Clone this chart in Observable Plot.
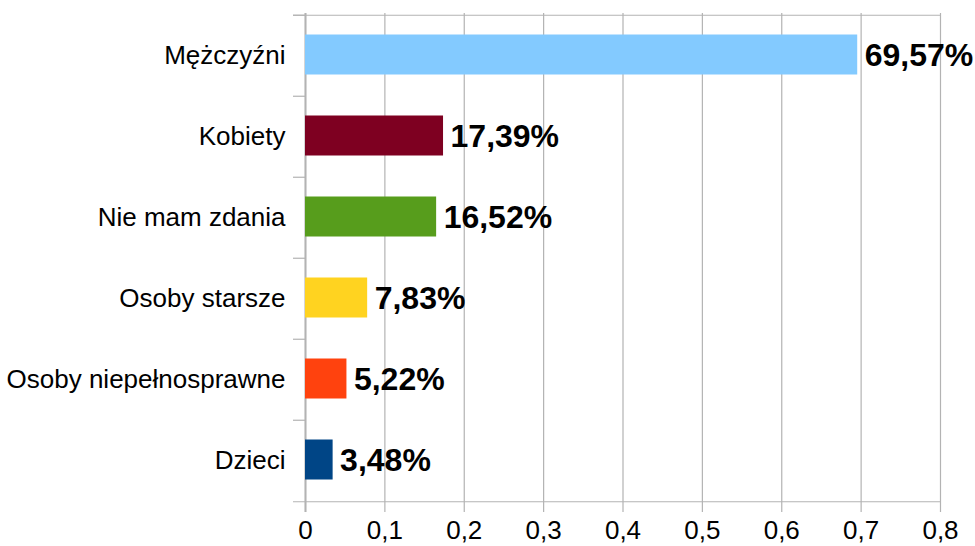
<!DOCTYPE html>
<html>
<head>
<meta charset="utf-8">
<script src="https://cdn.jsdelivr.net/npm/d3@7"></script>
<script src="https://cdn.jsdelivr.net/npm/@observablehq/plot@0.6"></script>
<style>
  html, body { margin: 0; padding: 0; background: #fff; }
</style>
</head>
<body>
<div id="chart"></div>
<script>
const categories = ["Mężczyźni", "Kobiety", "Nie mam zdania", "Osoby starsze", "Osoby niepełnosprawne", "Dzieci"];
const values = [0.6957, 0.1739, 0.1652, 0.0783, 0.0522, 0.0348];
const xTicks = [0, 0.1, 0.2, 0.3, 0.4, 0.5, 0.6, 0.7, 0.8];

const palette = ["#83caff", "#7e0021", "#579d1c", "#ffd320", "#ff420e", "#004586"];

const data = categories.map((c, i) => ({category: c, value: values[i], color: palette[i]}));

const width = 975, height = 546;
const marginTop = 13, marginBottom = 44, marginLeft = 305, marginRight = 35;
const half = (height - marginTop - marginBottom) / categories.length / 2;
const grid = "#b3b3b3";
const fmtPct = v => (v * 100).toFixed(2).replace(".", ",") + "%";
const fmtTick = v => String(v).replace(".", ",");

const chart = Plot.plot({
  width, height, marginTop, marginBottom, marginLeft, marginRight,
  style: {fontFamily: "'Liberation Sans', Arial, sans-serif", fontSize: "26px", color: "#000", background: "#fff"},
  x: {domain: [0, 0.8], ticks: xTicks, tickFormat: fmtTick, tickSize: 0, tickPadding: 18, label: null},
  y: {domain: categories, padding: 0, tickSize: 0, tickPadding: 20, label: null},
  marks: [
    Plot.ruleX(xTicks, {stroke: grid, strokeWidth: 1.2, insetBottom: -10}),
    Plot.ruleY(categories, {y: d => d, dy: -half, x1: 0, x2: 0, insetLeft: -12, stroke: grid, strokeWidth: 1.2}),
    Plot.ruleY([categories[0]], {y: d => d, dy: -half, x1: 0, x2: 0.8, insetLeft: -12, stroke: grid, strokeWidth: 1.2}),
    Plot.ruleY([categories[categories.length - 1]], {y: d => d, dy: half, x1: 0, x2: 0.8, insetLeft: -12, stroke: grid, strokeWidth: 1.2}),
    Plot.ruleX([0], {stroke: grid, strokeWidth: 2, insetBottom: -10}),
    Plot.barX(data, {x: "value", y: "category", fill: "color", insetTop: 19.5, insetBottom: 21.5}),
    Plot.text(data, {x: "value", y: "category", text: d => fmtPct(d.value), textAnchor: "start", dx: 7, fontSize: 32, fontWeight: "bold", fill: "#000"})
  ]
});
document.getElementById("chart").appendChild(chart);
</script>
</body>
</html>
